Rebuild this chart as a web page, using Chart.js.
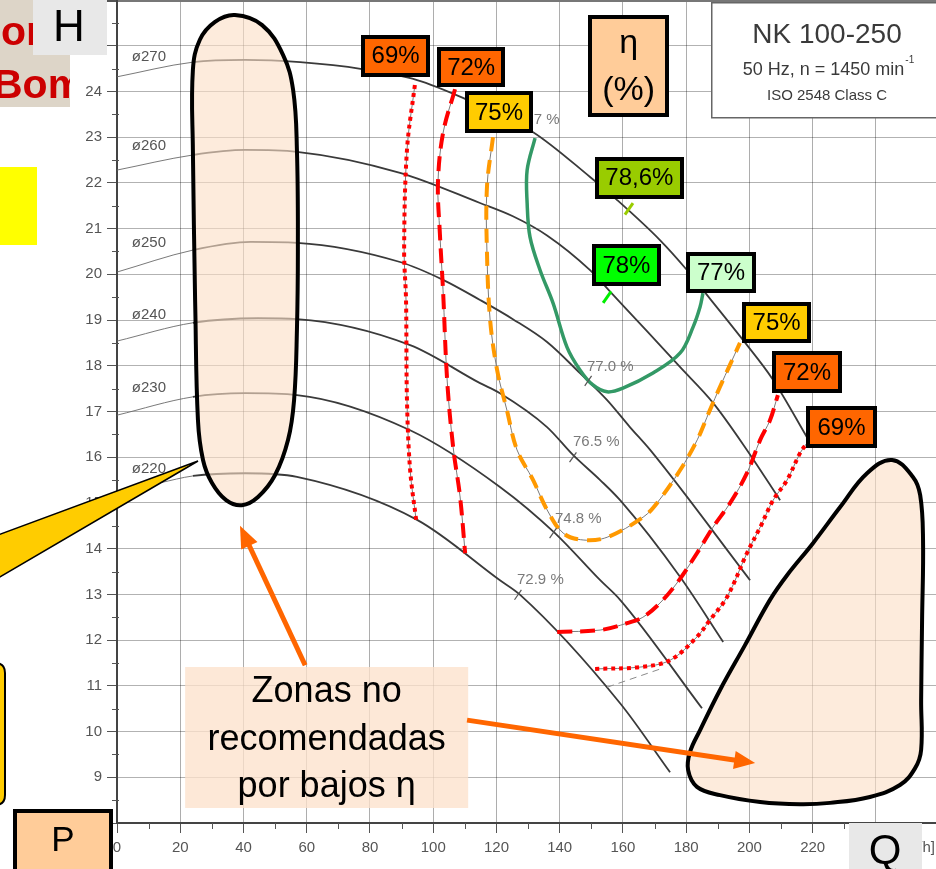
<!DOCTYPE html>
<html>
<head>
<meta charset="utf-8">
<script src="https://cdn.jsdelivr.net/npm/chart.js@4.4.1/dist/chart.umd.min.js"></script>
<style>
html,body{margin:0;padding:0;background:#fff;overflow:hidden;}
canvas{display:block;}
</style>
</head>
<body>
<canvas id="chart" width="936" height="869"></canvas>
<script>
// ---------- axes ----------
const xTickValues = [0, 20, 40, 60, 80, 100, 120, 140, 160, 180, 200, 220, 240];
const yTickValues = [8, 9, 10, 11, 12, 13, 14, 15, 16, 17, 18, 19, 20, 21, 22, 23, 24, 25, 26];

// ---------- impeller curves  [Q m3/h, H m] ----------
const diameterNames = ['ø270', 'ø260', 'ø250', 'ø240', 'ø230', 'ø220'];
const curve270 = [[0,24.32],[24,24.64],[40.5,24.69],[57.9,24.64],[77.5,24.49],[94.9,24.25],[109.4,23.86],[131.6,23.11],[149.6,22.13],[158.1,21.63],[171.7,20.75],[180.3,20.09],[187.5,19.47],[198.0,18.56],[207.5,17.69],[218.5,16.40]];
const curve260 = [[0,22.28],[24,22.61],[40.5,22.72],[56.9,22.68],[89.5,22.22],[114.8,21.56],[125.2,21.27],[136.0,20.85],[149.6,20.09],[156.9,19.55],[167.6,18.76],[178.1,17.97],[188.5,17.19],[199.2,16.16],[209.7,15.06]];
const curve250 = [[0,20.05],[24,20.53],[42.3,20.71],[56.9,20.69],[89.5,20.27],[103.1,19.88],[114.8,19.44],[125.2,19.02],[136.0,18.52],[146.4,17.84],[155.0,17.25],[162.2,16.66],[168.6,16.16],[200.2,13.31]];
const curve240 = [[0,18.54],[24,18.94],[44.6,19.04],[56.9,19.02],[92.7,18.45],[114.8,17.62],[121.1,17.40],[136.0,16.66],[144.2,16.05],[152.8,15.50],[159.1,15.06],[178.1,13.38],[191.7,11.96]];
const curve230 = [[0,16.92],[24,17.32],[40.5,17.40],[56.9,17.36],[92.7,16.59],[121.1,15.35],[138.5,14.34],[152.8,13.31],[159.1,12.88],[185.0,10.51]];
const curve220 = [[0,15.24],[13.6,15.44],[24,15.59],[40.5,15.65],[56.9,15.57],[94.9,14.63],[121.1,13.31],[127.5,12.99],[159.1,10.62],[174.9,9.11]];
const diameterLabelAt = [[4.7,24.75],[4.7,22.81],[4.7,20.69],[4.7,19.11],[4.7,17.51],[4.7,15.74]];

// ---------- efficiency contours ----------
const eff69Low  = [[94.2,24.14],[91.7,22.72],[90.8,20.53],[91.4,19.44],[91.7,17.25],[92.7,15.72],[94.6,14.63]];
const eff72Low  = [[106.9,24.05],[103.1,23.09],[101.5,22.00],[102.1,20.90],[103.1,19.66],[104.4,17.69],[106.3,16.22],[108.5,15.13],[110.1,13.90]];
const eff75     = [[118.9,23.00],[117.0,21.91],[117.0,20.47],[118.0,19.00],[120.2,17.91],[123.3,17.03],[126.5,16.16],[131.6,15.50],[136.0,14.85],[141.1,14.34],[147.4,14.19],[155.0,14.25],[166.4,14.69],[170.8,15.00],[178.1,15.72],[183.5,16.38],[187.5,17.03],[190.7,17.54],[197.0,18.50]];
const eff77     = [[132.2,22.98],[129.7,22.28],[129.7,21.56],[130.6,20.82],[133.8,20.09],[137.9,19.37],[142.3,18.41],[146.4,17.91],[150.5,17.58],[155.0,17.43],[160.0,17.51],[169.5,17.84],[178.1,18.28],[182.2,18.85],[184.4,19.29],[185.3,19.59]];
const eff72High = [[139.2,12.18],[152.8,12.22],[161.3,12.37],[166.3,12.50],[171.7,12.81],[177.1,13.25],[183.4,13.90],[188.5,14.47],[193.9,15.00],[199.2,15.65],[203.4,16.38],[206.5,16.81],[209.0,17.36]];
const eff69High = [[151.2,11.37],[165.4,11.41],[174.9,11.56],[183.4,12.07],[187.5,12.44],[192.9,12.94],[199.2,13.90],[203.4,14.47],[207.5,15.06],[211.9,15.50],[216.0,16.09],[218.2,16.31]];
const eff729Tail = [[155.0,10.97],[172.7,11.39]];

// ---------- efficiency marks on curves ----------
const greyMarkPoints = [[149.0,17.67],[144.2,16.00],[137.9,14.34],[126.8,12.99]];
const greyMarkTexts  = ['77.7 %', '77.0 %', '76.5 %', '74.8 %', '72.9 %'];
const greyMarkTextAt = [[125.2,23.38],[148.6,17.97],[144.2,16.33],[138.5,14.65],[126.5,13.31]];
const bep786 = [[161.9,21.43]];
const bep78  = [[155.0,19.50]];

// ---------- efficiency label boxes ----------
const effBoxTexts  = ['69%', '72%', '75%', '78,6%', '78%', '77%', '75%', '72%', '69%'];
const effBoxAt     = [[88.1,24.78],[112.0,24.53],[120.8,23.55],[165.2,22.11],[161.1,20.20],[191.0,20.04],[208.6,18.95],[218.2,17.86],[229.1,16.66]];
const effBoxSize   = [[69,42],[68,40],[68,42],[89,42],[69,42],[70,41],[69,41],[70,42],[71,42]];
const effBoxColors = ['#FF6600','#FF6600','#FFCC00','#99CC00','#00FF00','#CCFFCC','#FFCC00','#FF6600','#FF6600'];

// ---------- non-recommended zones ----------
const zoneLowFlow = [[24.7,19.44],[24.0,22.72],[24.0,24.47],[26.2,25.13],[31.0,25.52],[37.3,25.67],[45.9,25.45],[52.5,24.80],[55.7,24.03],[56.9,22.72],[57.2,20.53],[56.9,18.78],[56.0,17.25],[54.1,16.38],[50.0,15.61],[44.6,15.13],[39.5,14.95],[34.5,15.06],[30.0,15.44],[27.2,15.94],[25.6,16.81],[24.7,19.44]];
const zoneHighFlow = [[254.6,12.44],[254.3,10.69],[254.3,9.60],[252.4,9.20],[247.6,8.83],[238.1,8.57],[225.5,8.44],[216.0,8.41],[203.4,8.46],[190.7,8.61],[183.4,8.79],[180.6,9.16],[181.2,9.55],[184.4,10.03],[190.7,10.91],[198.6,11.89],[206.5,12.88],[211.9,13.42],[220.1,14.12],[228.7,14.91],[237.2,15.65],[245.1,15.94],[251.7,15.57],[254.0,15.17],[254.9,14.19],[254.6,12.44]];
const arrowToLow  = [[59.5,11.45],[38.9,14.50]];
const arrowToHigh = [[110.7,10.25],[201.8,9.31]];
const zoneTextLines = ['Zonas no', 'recomendadas', 'por bajos η'];
const zoneTextAt = [66.3, 9.87];
const etaBoxAt = [161.8, 24.56];

// =====================================================
const FONT = '"Liberation Sans", Arial, Helvetica, sans-serif';
const toXY = a => a.map(p => ({x: p[0], y: p[1]}));
const ZONE_FILL = 'rgba(252,222,198,0.62)';

const datasets = [];
[curve270, curve260, curve250, curve240, curve230, curve220].forEach((c, i) => {
  datasets.push({
    label: diameterNames[i], data: toXY(c), order: 50,
    borderColor: '#3a3a3a', borderWidth: 1.8, pointRadius: 0,
    cubicInterpolationMode: 'monotone', fill: false,
    segment: {
      borderWidth: s => (s.p1.parsed.x <= 24.01 ? 0.9 : 1.8),
      borderColor: s => (s.p1.parsed.x <= 24.01 ? '#6a6a6a' : '#3a3a3a')
    }
  });
});

const effSets = [
  {d: eff69Low,  c: '#FF0000', dash: [4, 4],  w: 4},
  {d: eff72Low,  c: '#FF0000', dash: [15, 8], w: 4},
  {d: eff75,     c: '#FF9900', dash: [14, 9], w: 4},
  {d: eff77,     c: '#339966', dash: [],      w: 3.5},
  {d: eff72High, c: '#FF0000', dash: [15, 8], w: 4},
  {d: eff69High, c: '#FF0000', dash: [4, 4],  w: 4}
];
effSets.forEach(e => {
  if (e.dash.length) {
    datasets.push({data: toXY(e.d), order: 40, borderColor: '#7a7a7a', borderWidth: 1,
      pointRadius: 0, tension: 0.35, fill: false});
  }
  datasets.push({data: toXY(e.d), order: 30, borderColor: e.c, borderWidth: e.w,
    borderDash: e.dash, borderCapStyle: 'butt', pointRadius: 0, tension: 0.35, fill: false});
});
datasets.push({data: toXY(eff729Tail), order: 40, borderColor: '#8a8a8a', borderWidth: 1,
  borderDash: [7, 5], pointRadius: 0, fill: false});

datasets.push({data: toXY(greyMarkPoints), order: 20, showLine: false, pointStyle: 'line',
  pointRadius: 6, pointBorderWidth: 1.2, pointBorderColor: '#555', pointRotation: -55, pointBackgroundColor: '#555'});
datasets.push({data: toXY(bep786), order: 20, showLine: false, pointStyle: 'line',
  pointRadius: 7, pointBorderWidth: 3, pointBorderColor: '#99CC00', pointRotation: -55});
datasets.push({data: toXY(bep78), order: 20, showLine: false, pointStyle: 'line',
  pointRadius: 7, pointBorderWidth: 3, pointBorderColor: '#00EE00', pointRotation: -55});

[zoneLowFlow, zoneHighFlow].forEach(z => {
  datasets.push({data: toXY(z), order: 10, borderColor: '#000', borderWidth: 4,
    backgroundColor: ZONE_FILL, fill: 'shape', tension: 0.4, pointRadius: 0,
    borderJoinStyle: 'round'});
});

// ---------- helpers ----------
function boxAt(ctx, x, y, w, h, fill, lw, stroke) {
  ctx.fillStyle = fill;
  ctx.fillRect(x, y, w, h);
  if (lw) {
    ctx.lineWidth = lw; ctx.strokeStyle = stroke || '#000';
    ctx.strokeRect(x + lw / 2, y + lw / 2, w - lw, h - lw);
  }
}
function drawArrow(ctx, x0, y0, x1, y1, headLen, headW, lw, color) {
  const dx = x1 - x0, dy = y1 - y0, L = Math.hypot(dx, dy), ux = dx / L, uy = dy / L;
  const bx = x1 - ux * headLen, by = y1 - uy * headLen;
  ctx.strokeStyle = color; ctx.lineWidth = lw; ctx.lineCap = 'butt';
  ctx.beginPath(); ctx.moveTo(x0, y0); ctx.lineTo(bx + ux * 3, by + uy * 3); ctx.stroke();
  ctx.fillStyle = color;
  ctx.beginPath(); ctx.moveTo(x1, y1);
  ctx.lineTo(bx - uy * headW / 2, by + ux * headW / 2);
  ctx.lineTo(bx + uy * headW / 2, by - ux * headW / 2);
  ctx.closePath(); ctx.fill();
}
function roundRect(ctx, x, y, w, h, r) {
  ctx.beginPath();
  ctx.moveTo(x + r, y); ctx.lineTo(x + w - r, y); ctx.quadraticCurveTo(x + w, y, x + w, y + r);
  ctx.lineTo(x + w, y + h - r); ctx.quadraticCurveTo(x + w, y + h, x + w - r, y + h);
  ctx.lineTo(x + r, y + h); ctx.quadraticCurveTo(x, y + h, x, y + h - r);
  ctx.lineTo(x, y + r); ctx.quadraticCurveTo(x, y, x + r, y); ctx.closePath();
}

const annotations = {
  id: 'annotations',
  beforeDatasetsDraw(chart) {
    const ctx = chart.ctx, xs = chart.scales.x, ys = chart.scales.y;
    ctx.save();
    ctx.strokeStyle = '#555'; ctx.lineWidth = 1;
    for (let v = 10; v < 259; v += 20) {
      const px = Math.round(xs.getPixelForValue(v)) + 0.5;
      ctx.beginPath(); ctx.moveTo(px, chart.chartArea.bottom); ctx.lineTo(px, chart.chartArea.bottom + 6); ctx.stroke();
    }
    for (let v = 8.5; v < 26; v += 1) {
      const py = Math.round(ys.getPixelForValue(v)) + 0.5;
      ctx.beginPath(); ctx.moveTo(chart.chartArea.left - 5, py); ctx.lineTo(chart.chartArea.left + 2, py); ctx.stroke();
    }
    ctx.restore();
  },
  afterDatasetsDraw(chart) {
    const ctx = chart.ctx, xs = chart.scales.x, ys = chart.scales.y;
    const X = v => xs.getPixelForValue(v), Y = v => ys.getPixelForValue(v);
    ctx.save();
    ctx.textBaseline = 'middle';
    ctx.font = '15px ' + FONT; ctx.fillStyle = '#555'; ctx.textAlign = 'left';
    diameterNames.forEach((n, i) => ctx.fillText(n, X(diameterLabelAt[i][0]), Y(diameterLabelAt[i][1])));
    ctx.fillStyle = '#7a7a7a';
    greyMarkTexts.forEach((t, i) => ctx.fillText(t, X(greyMarkTextAt[i][0]), Y(greyMarkTextAt[i][1])));

    const zx = X(zoneTextAt[0]), zy = Y(zoneTextAt[1]);
    ctx.fillStyle = 'rgba(252,226,204,0.78)';
    ctx.fillRect(zx - 141.5, zy - 70.5, 283, 141);
    ctx.fillStyle = '#000'; ctx.textAlign = 'center'; ctx.font = '36px ' + FONT;
    zoneTextLines.forEach((t, i) => ctx.fillText(t, zx, zy - 45 + i * 47.5));

    drawArrow(ctx, X(arrowToLow[0][0]), Y(arrowToLow[0][1]), X(arrowToLow[1][0]), Y(arrowToLow[1][1]), 22, 18, 5, '#FF6600');
    drawArrow(ctx, X(arrowToHigh[0][0]), Y(arrowToHigh[0][1]), X(arrowToHigh[1][0]), Y(arrowToHigh[1][1]), 21, 18, 5, '#FF6600');

    ctx.font = '24px ' + FONT;
    effBoxTexts.forEach((t, i) => {
      const cx = X(effBoxAt[i][0]), cy = Y(effBoxAt[i][1]);
      const w = effBoxSize[i][0], h = effBoxSize[i][1];
      boxAt(ctx, Math.round(cx - w / 2), Math.round(cy - h / 2), w, h, effBoxColors[i], 4, '#000');
      ctx.fillStyle = '#000'; ctx.textAlign = 'center';
      ctx.fillText(t, cx, cy + 1);
    });

    const ex = X(etaBoxAt[0]), ey = Y(etaBoxAt[1]);
    boxAt(ctx, Math.round(ex - 40.5), Math.round(ey - 51), 81, 102, '#FFCC99', 4, '#000');
    ctx.fillStyle = '#000'; ctx.font = '34px ' + FONT;
    ctx.fillText('η', ex, ey - 22);
    ctx.fillText('(%)', ex, ey + 25);
    ctx.restore();
  },
  afterDraw(chart) {
    const ctx = chart.ctx;
    ctx.save();
    ctx.textBaseline = 'middle'; ctx.textAlign = 'center';
    ctx.fillStyle = '#fff'; ctx.fillRect(711, 2, 240, 116);
    ctx.strokeStyle = '#666'; ctx.lineWidth = 1.5; ctx.strokeRect(711.75, 2.75, 240, 115);
    ctx.fillStyle = '#3a3a3a';
    ctx.font = '28px ' + FONT; ctx.fillText('NK 100-250', 827, 35);
    ctx.font = '18px ' + FONT;
    const main = '50 Hz, n = 1450 min', sup = '-1';
    const mw = ctx.measureText(main).width;
    ctx.font = '10px ' + FONT; const sw = ctx.measureText(sup).width;
    const sx = 828 - (mw + sw) / 2;
    ctx.textAlign = 'left';
    ctx.font = '18px ' + FONT; ctx.fillText(main, sx, 70);
    ctx.font = '10px ' + FONT; ctx.fillText(sup, sx + mw + 1, 60);
    ctx.textAlign = 'center';
    ctx.font = '15px ' + FONT; ctx.fillText('ISO 2548 Class C', 827, 96);

    ctx.fillStyle = '#555'; ctx.font = '15px ' + FONT; ctx.textAlign = 'right';
    ctx.fillText('Q [m³/h]', 935, 848);

    ctx.fillStyle = '#DDD5C8'; ctx.fillRect(0, 0, 70, 107);
    ctx.save();
    ctx.beginPath(); ctx.rect(0, 0, 70, 107); ctx.clip();
    ctx.fillStyle = '#CC0000'; ctx.font = 'bold 41px ' + FONT;
    ctx.textAlign = 'left'; ctx.textBaseline = 'alphabetic';
    ctx.fillText('or', 1, 45);
    ctx.fillText('Bomba', -7, 98);
    ctx.restore();

    ctx.fillStyle = '#E8E8E8'; ctx.fillRect(33, 0, 74, 55);
    ctx.fillStyle = '#000'; ctx.font = '44px ' + FONT; ctx.textAlign = 'center'; ctx.textBaseline = 'middle';
    ctx.fillText('H', 69, 29);

    ctx.fillStyle = '#FFFF00'; ctx.fillRect(0, 167, 37, 78);

    ctx.beginPath(); ctx.moveTo(-2, 535); ctx.lineTo(198, 461); ctx.lineTo(-2, 578); ctx.closePath();
    ctx.fillStyle = '#FFCC00'; ctx.fill();
    ctx.strokeStyle = '#000'; ctx.lineWidth = 1.6; ctx.stroke();

    roundRect(ctx, -60, 663, 65, 142, 10);
    ctx.fillStyle = '#FFCC00'; ctx.fill();
    ctx.lineWidth = 2; ctx.strokeStyle = '#000'; ctx.stroke();

    boxAt(ctx, 13, 809, 100, 66, '#FFCC99', 4, '#000');
    ctx.fillStyle = '#000'; ctx.font = '35px ' + FONT; ctx.fillText('P', 63, 841);

    ctx.fillStyle = '#E8E8E8'; ctx.fillRect(849, 823, 73, 46);
    ctx.fillStyle = '#000'; ctx.font = '42px ' + FONT; ctx.fillText('Q', 885, 852);
    ctx.restore();
  }
};

Chart.defaults.font.family = FONT;

new Chart(document.getElementById('chart'), {
  type: 'line',
  data: {datasets},
  plugins: [annotations],
  options: {
    responsive: false,
    animation: false,
    events: [],
    devicePixelRatio: 1,
    layout: {padding: 0, autoPadding: false},
    plugins: {legend: {display: false}, tooltip: {enabled: false}},
    elements: {point: {radius: 0, hoverRadius: 0}},
    scales: {
      x: {
        type: 'linear', min: 0, max: 259,
        afterBuildTicks: s => { s.ticks = xTickValues.map(v => ({value: v})); },
        afterFit: s => { s.height = 46; s.paddingLeft = 0; s.paddingRight = 0; },
        ticks: {autoSkip: false, maxRotation: 0, color: '#555', font: {size: 15}, padding: 6,
          callback: v => String(v)},
        grid: {color: 'rgba(0,0,0,0.32)', lineWidth: 1, tickColor: '#555', tickLength: 10},
        border: {color: '#444', width: 2}
      },
      y: {
        type: 'linear', min: 8, max: 26,
        afterBuildTicks: s => { s.ticks = yTickValues.map(v => ({value: v})); },
        afterFit: s => { s.width = 117; s.paddingTop = 0; s.paddingBottom = 0; },
        ticks: {color: '#555', font: {size: 15, lineHeight: 0}, padding: 5, callback: v => String(v)},
        grid: {
          color: c => (c.tick && c.tick.value === 26 ? '#777' : 'rgba(0,0,0,0.30)'),
          lineWidth: c => (c.tick && c.tick.value === 26 ? 3 : 1),
          tickColor: '#555', tickLength: 10
        },
        border: {color: '#444', width: 2}
      }
    }
  }
});
</script>
</body>
</html>
